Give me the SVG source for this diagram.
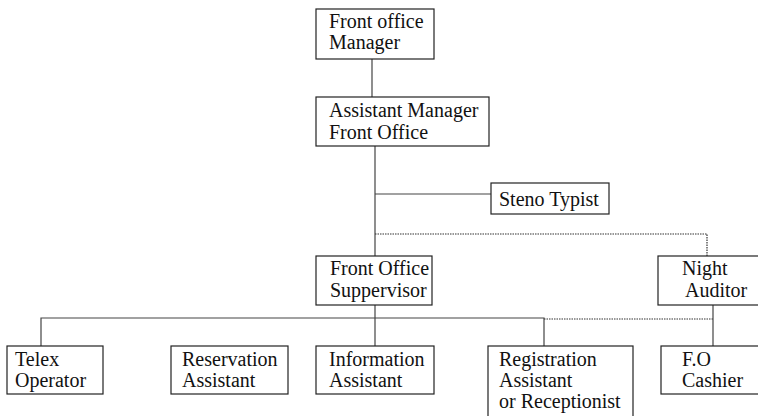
<svg xmlns="http://www.w3.org/2000/svg" width="758" height="416" viewBox="0 0 758 416">
<style>
.box{fill:#fff;stroke:#222;stroke-width:1.2}
.t{font-family:"Liberation Serif","Times New Roman",serif;font-size:20px;fill:#111}
.ln{fill:none;stroke:#444;stroke-width:1.2}
.dt{fill:none;stroke:#333;stroke-width:1.2;stroke-dasharray:1.5 1}
</style>
<rect width="758" height="416" fill="#fff"/>
<g id="connectors">
<line class="ln" x1="372" y1="59" x2="372" y2="97"/>
<line class="ln" x1="375" y1="146" x2="375" y2="256"/>
<line class="ln" x1="375" y1="194" x2="491" y2="194"/>
<polyline class="dt" points="375,234 707,234 707,256"/>
<line class="ln" x1="375" y1="305" x2="375" y2="346"/>
<polyline class="ln" points="41,346 41,318 544,318 544,346"/>
<line class="dt" x1="544" y1="319" x2="713" y2="319"/>
<line class="ln" x1="713" y1="305" x2="713" y2="346"/>
</g>
<g id="front-office-manager">
<rect class="box" x="316" y="9" width="118" height="50"/>
<text class="t" x="329" y="28">Front office</text>
<text class="t" x="329" y="49">Manager</text>
</g>
<g id="assistant-manager">
<rect class="box" x="316" y="97" width="173" height="49"/>
<text class="t" x="329" y="117">Assistant Manager</text>
<text class="t" x="329" y="139">Front Office</text>
</g>
<g id="steno-typist">
<rect class="box" x="491" y="183" width="118" height="31"/>
<text class="t" x="499" y="206">Steno Typist</text>
</g>
<g id="front-office-supervisor">
<rect class="box" x="316" y="256" width="116" height="49"/>
<text class="t" x="330" y="275">Front Office</text>
<text class="t" x="330" y="297">Suppervisor</text>
</g>
<g id="night-auditor">
<rect class="box" x="658" y="256" width="120" height="49"/>
<text class="t" x="682" y="275">Night</text>
<text class="t" x="685" y="297">Auditor</text>
</g>
<g id="telex-operator">
<rect class="box" x="7" y="346" width="96" height="48"/>
<text class="t" x="15" y="366">Telex</text>
<text class="t" x="15" y="387">Operator</text>
</g>
<g id="reservation-assistant">
<rect class="box" x="171" y="346" width="117" height="48"/>
<text class="t" x="182" y="366">Reservation</text>
<text class="t" x="182" y="387">Assistant</text>
</g>
<g id="information-assistant">
<rect class="box" x="316" y="346" width="118" height="48"/>
<text class="t" x="329" y="366">Information</text>
<text class="t" x="329" y="387">Assistant</text>
</g>
<g id="registration-assistant">
<rect class="box" x="488" y="346" width="145" height="80"/>
<text class="t" x="499" y="366">Registration</text>
<text class="t" x="499" y="387">Assistant</text>
<text class="t" x="499" y="408">or Receptionist</text>
</g>
<g id="fo-cashier">
<rect class="box" x="661" y="346" width="117" height="48"/>
<text class="t" x="682" y="366">F.O</text>
<text class="t" x="682" y="387">Cashier</text>
</g>
</svg>
